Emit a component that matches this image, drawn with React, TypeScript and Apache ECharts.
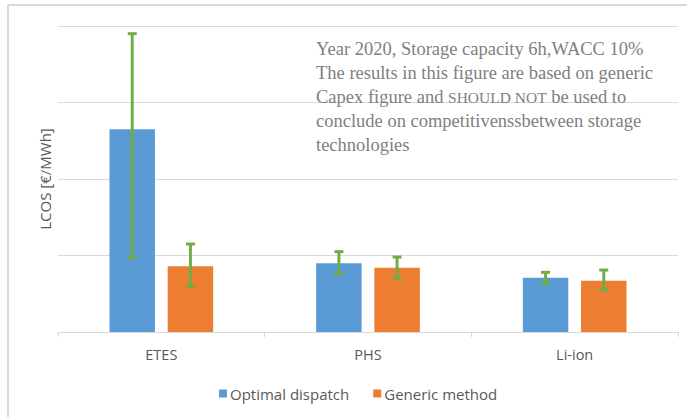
import React, { useEffect, useRef } from "react";
import * as echarts from "echarts";

const categories = ["ETES", "PHS", "Li-ion"];
const seriesNames = ["Optimal dispatch", "Generic method"];
const optimalValues = [265, 90, 71];
const genericValues = [86, 84, 67];
const optimalLow = [97, 76, 63];
const optimalHigh = [390, 105, 78];
const genericLow = [59, 70, 55];
const genericHigh = [115, 98, 81];
const noteLines = [
  "Year 2020, Storage capacity 6h,WACC 10%",
  "The results in this figure are based on generic",
  "Capex figure and {sc|SHOULD NOT} be used to",
  "conclude on competitivenssbetween storage",
  "technologies",
];

const BAR_W = 0.22;
const BAR_GAP = 0.28;

function errorSeries(low: number[], high: number[], side: number) {
  return {
    type: "custom",
    silent: true,
    z: 5,
    data: categories.map((_, i) => [i, low[i], high[i]]),
    encode: { x: 0, y: [1, 2] },
    renderItem: (params: any, api: any) => {
      const idx = api.value(0);
      const lo = api.coord([idx, api.value(1)]);
      const hi = api.coord([idx, api.value(2)]);
      const band = api.size([1, 0])[0];
      const off = (band * BAR_W * (1 + BAR_GAP)) / 2;
      const x = lo[0] + side * off;
      const cap = 4.5;
      const style = { stroke: "#70AD47", lineWidth: 3 };
      return {
        type: "group",
        children: [
          { type: "line", shape: { x1: x, y1: lo[1], x2: x, y2: hi[1] }, style },
          { type: "line", shape: { x1: x - cap, y1: lo[1], x2: x + cap, y2: lo[1] }, style },
          { type: "line", shape: { x1: x - cap, y1: hi[1], x2: x + cap, y2: hi[1] }, style },
        ],
      };
    },
  };
}

export default function App() {
  const ref = useRef<HTMLDivElement>(null);
  useEffect(() => {
    if (!ref.current) return;
    const chart = echarts.init(ref.current, null, { renderer: "svg" });
    const font = "Open Sans";
    chart.setOption({
      animation: false,
      backgroundColor: "#ffffff",
      grid: { left: 58, right: 9, top: 26, bottom: 85 },
      xAxis: {
        type: "category",
        data: categories,
        axisLine: { lineStyle: { color: "#d9d9d9", width: 1 } },
        axisTick: { show: true, length: 5, lineStyle: { color: "#d9d9d9" } },
        axisLabel: { color: "#595959", fontSize: 14.5, fontFamily: font, margin: 15 },
      },
      yAxis: {
        type: "value",
        min: 0,
        max: 400,
        interval: 100,
        name: "LCOS [€/MWh]",
        nameLocation: "middle",
        nameGap: 6,
        nameTextStyle: { color: "#595959", fontSize: 15, fontFamily: font },
        axisLabel: { show: false },
        axisLine: { show: false },
        axisTick: { show: false },
        splitLine: { lineStyle: { color: "#d9d9d9", width: 1 } },
      },
      legend: {
        top: 381,
        left: 214,
        itemWidth: 8,
        itemHeight: 8,
        itemGap: 24,
        icon: "rect",
        data: seriesNames,
        textStyle: { color: "#595959", fontSize: 15, fontFamily: font, padding: [0, 0, 0, -2] },
      },
      graphic: [
        { type: "line", shape: { x1: 8, y1: 5, x2: 687, y2: 5 }, style: { stroke: "#d9d9d9", lineWidth: 2 } },
        { type: "line", shape: { x1: 8, y1: 5, x2: 8, y2: 417 }, style: { stroke: "#d9d9d9", lineWidth: 2 } },
        {
          type: "text",
          left: 316,
          top: 37,
          z: 10,
          style: {
            text: noteLines.join("\n"),
            fill: "#808080",
            fontSize: 18.5,
            lineHeight: 24,
            fontFamily: "Liberation Serif",
            rich: {
              sc: { fontSize: 15.5, fill: "#808080", fontFamily: "Liberation Serif", lineHeight: 24 },
            },
          },
        },
      ],
      series: [
        {
          name: seriesNames[0],
          type: "bar",
          data: optimalValues,
          barWidth: BAR_W * 100 + "%",
          barGap: BAR_GAP * 100 + "%",
          itemStyle: { color: "#5B9BD5" },
        },
        {
          name: seriesNames[1],
          type: "bar",
          data: genericValues,
          barWidth: BAR_W * 100 + "%",
          itemStyle: { color: "#ED7D31" },
        },
        errorSeries(optimalLow, optimalHigh, -1),
        errorSeries(genericLow, genericHigh, 1),
      ],
    });
    return () => chart.dispose();
  }, []);
  return (
    <div
      ref={ref}
      style={{ position: "fixed", left: 0, top: 0, width: 687, height: 417 }}
    />
  );
}
